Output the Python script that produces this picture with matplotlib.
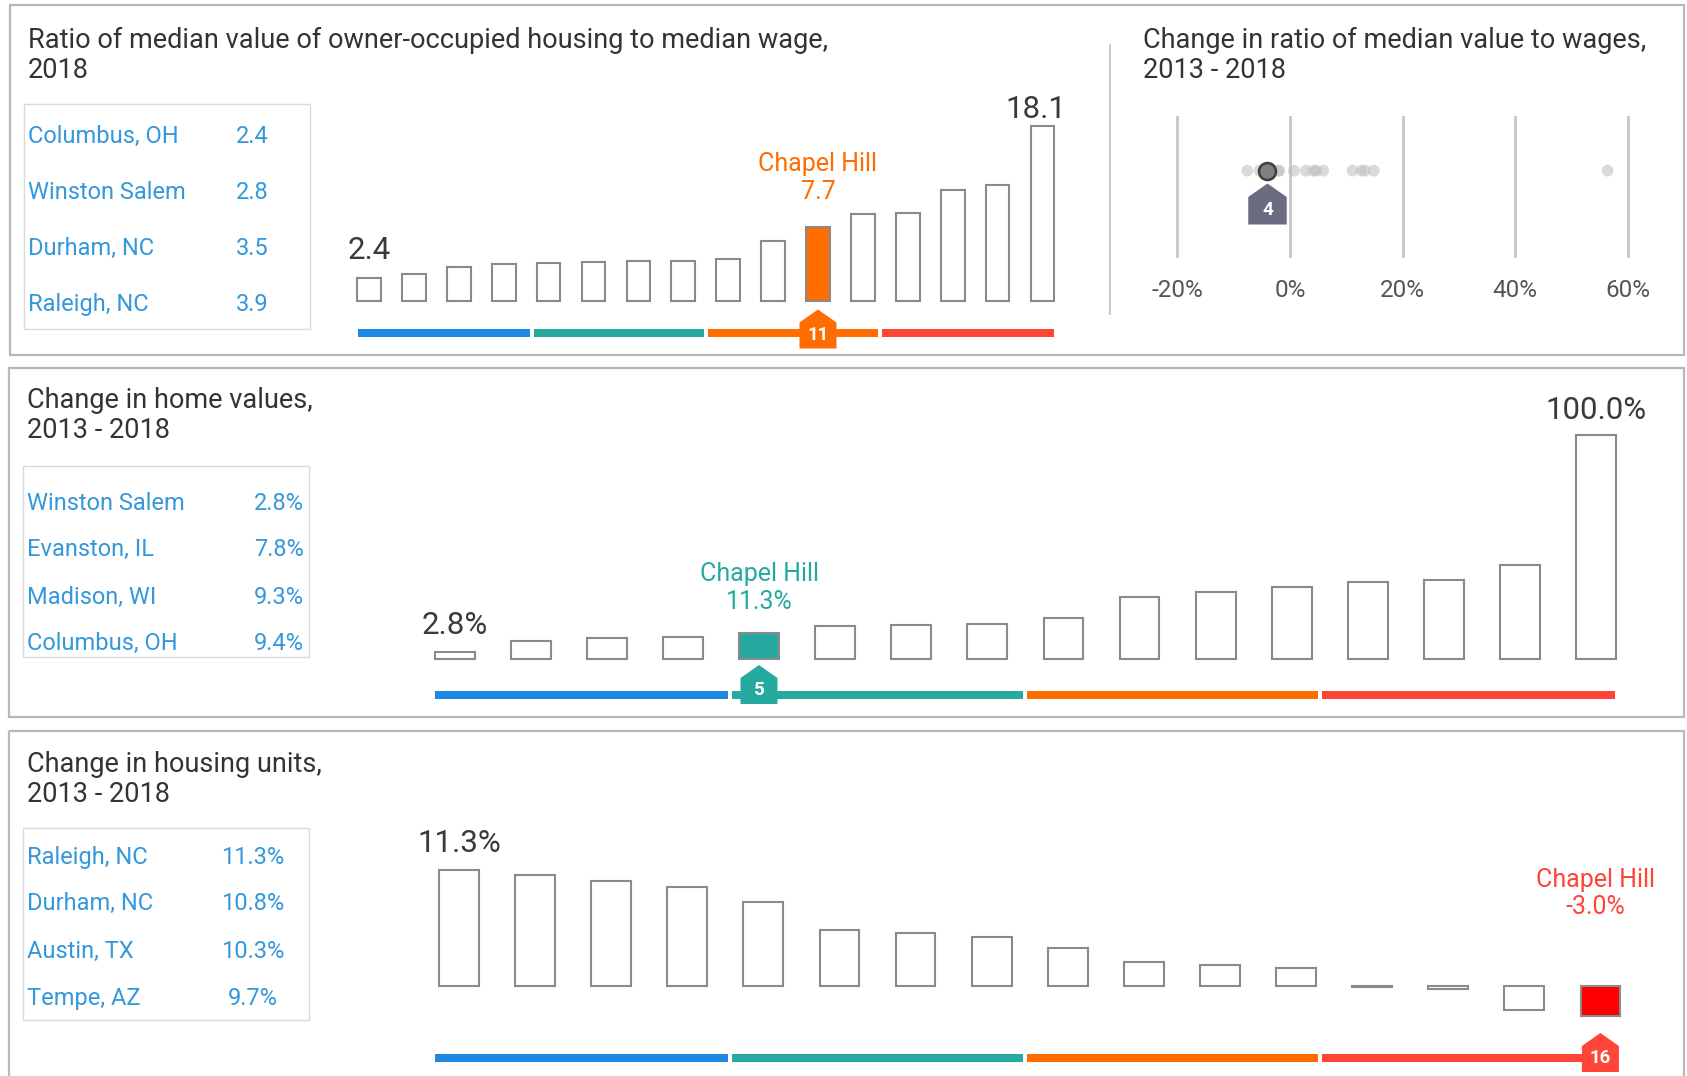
import matplotlib
matplotlib.use("Agg")
import matplotlib.pyplot as plt
from matplotlib.patches import Rectangle, Polygon
import numpy as np

plt.rcParams['font.family'] = ['Roboto', 'DejaVu Sans']

# ---------------- data ----------------
# Ratio of median home value to median wage, 2018 (sorted ascending)
ratio_values = [2.4, 2.8, 3.5, 3.9, 4.0, 4.1, 4.2, 4.2, 4.4, 6.2, 7.7, 9.0, 9.1, 11.5, 12.0, 18.1]
ratio_highlight = 10
ratio_table_names = ["Columbus, OH", "Winston Salem", "Durham, NC", "Raleigh, NC"]
ratio_table_values = ["2.4", "2.8", "3.5", "3.9"]

# Change in ratio of median value to wages, 2013-2018 (%)
ratio_change = [-7.6, -5.4, -4.6, -4.0, -2.1, -1.9, 0.7, 2.8, 4.2, 4.7, 5.9, 11.1, 12.7, 13.3, 14.9, 56.4]
ratio_change_highlight = 3
ratio_change_ticks = [-20, 0, 20, 40, 60]
ratio_change_ticklabels = ["-20%", "0%", "20%", "40%", "60%"]

# Change in home values, 2013-2018 (%)
home_values = [2.8, 7.8, 9.3, 9.4, 11.3, 14.3, 14.9, 15.5, 18.0, 27.4, 29.6, 32.0, 34.1, 35.1, 41.7, 100.0]
home_highlight = 4
home_table_names = ["Winston Salem", "Evanston, IL", "Madison, WI", "Columbus, OH"]
home_table_values = ["2.8%", "7.8%", "9.3%", "9.4%"]

# Change in housing units, 2013-2018 (%) (sorted descending)
units_values = [11.3, 10.8, 10.3, 9.7, 8.2, 5.4, 5.2, 4.75, 3.7, 2.3, 2.0, 1.7, -0.1, -0.3, -2.4, -3.0]
units_highlight = 15
units_table_names = ["Raleigh, NC", "Durham, NC", "Austin, TX", "Tempe, AZ"]
units_table_values = ["11.3%", "10.8%", "10.3%", "9.7%"]

# ---------------- styling ----------------
W, H = 1687, 1076
QUART_COLORS = ["#1e88e5", "#26aaa0", "#ff6d00", "#ff4438"]
TITLE_C = "#333333"
TABLE_C = "#3498db"
EDGE_C = "#8a8a8a"
LABEL_C = "#3a3a3a"
BORDER_C = "#b8b8b8"

TITLE_FS = 19.5
TABLE_FS = 17
VALUE_FS = 22.5
HL_FS = 18
TICK_FS = 17.5

fig = plt.figure(figsize=(W / 100, H / 100), dpi=100, facecolor="white")


def px_axes(x0, y0, x1, y1, z=1):
    ax = fig.add_axes([x0 / W, 1 - y1 / H, (x1 - x0) / W, (y1 - y0) / H], zorder=z)
    ax.set_facecolor("none")
    return ax


def canvas(z):
    ax = px_axes(0, 0, W, H, z)
    ax.set_xlim(0, W)
    ax.set_ylim(H, 0)
    ax.axis("off")
    return ax


bg = canvas(0)
fg = canvas(20)

# panel frames
for (x0, y0, x1, y1) in [(10, 5, 1684, 355), (9, 368, 1684, 717), (9, 731, 1684, 1090)]:
    bg.add_patch(Rectangle((x0, y0), x1 - x0, y1 - y0, fill=False,
                           ec=BORDER_C, lw=1.6, clip_on=False))

# separator in the top panel
bg.plot([1110, 1110], [45, 314], color="#c8c8c8", lw=1.4)


def title(x, y, lines):
    for i, t in enumerate(lines):
        bg.text(x, y + i * 30, t, fontsize=TITLE_FS, color=TITLE_C, va="center", ha="left")


title(28, 40, ["Ratio of median value of owner-occupied housing to median wage,", "2018"])
title(1143, 40, ["Change in ratio of median value to wages,", "2013 - 2018"])
title(27, 401, ["Change in home values,", "2013 - 2018"])
title(27, 764, ["Change in housing units,", "2013 - 2018"])


def table(box, rows_y, names, values, name_x, val_x):
    x0, y0, x1, y1 = box
    bg.add_patch(Rectangle((x0, y0), x1 - x0, y1 - y0, fill=False, ec="#dadada", lw=1.0))
    for y, n, v in zip(rows_y, names, values):
        bg.text(name_x, y, n, fontsize=TABLE_FS, color=TABLE_C, va="center", ha="left")
        bg.text(val_x, y, v, fontsize=TABLE_FS, color=TABLE_C, va="center", ha="center")


table((24, 104, 310, 329), [136.5, 192.5, 248.5, 304.5],
      ratio_table_names, ratio_table_values, 28, 252)
table((23, 466, 309, 657), [503.5, 549.5, 597, 643],
      home_table_names, home_table_values, 27, 279)
table((23, 828, 309, 1020), [857.5, 903.5, 951, 998.5],
      units_table_names, units_table_values, 27, 253)


def house(cx, tip_y, number, color, w=37, tri=13, h=39):
    pts = [(cx, tip_y), (cx + w / 2, tip_y + tri), (cx + w / 2, tip_y + h),
           (cx - w / 2, tip_y + h), (cx - w / 2, tip_y + tri)]
    fg.add_patch(Polygon(pts, closed=True, fc=color, ec="none"))
    fg.text(cx, tip_y + tri + (h - tri) / 2 - 1, number, color="white", fontsize=13.5,
            fontweight="bold", ha="center", va="center")


def bar_panel(values, hl, x0, step, bw, base_y, px_per_unit, top_y, bot_y,
              strip_y, strip_span, marker_tip):
    n = len(values)
    idx = np.arange(n)
    left = x0 - step / 2
    right = x0 + (n - 0.5) * step
    ax = px_axes(left, top_y, right, bot_y, z=5)
    ax.set_xlim(-0.5, n - 0.5)
    ax.set_ylim(-(bot_y - base_y) / px_per_unit, (base_y - top_y) / px_per_unit)
    ax.axis("off")
    hl_color = QUART_COLORS[hl // 4]
    faces = ["white"] * n
    faces[hl] = "#ff0000" if hl_color == QUART_COLORS[3] else hl_color
    ax.bar(idx, values, width=bw / step, color=faces, edgecolor=EDGE_C, linewidth=1.5)
    # quartile strips
    sx0, sx1 = strip_span
    q = (sx1 - sx0) / 4
    for k in range(4):
        bg.add_patch(Rectangle((sx0 + k * q + (2 if k else 0), strip_y - 4),
                               q - (4 if 0 < k < 3 else 2), 8, fc=QUART_COLORS[k], ec="none"))
    house(x0 + hl * step, marker_tip, str(hl + 1), hl_color)
    return ax, hl_color


def label(ax, i, v, text, dy, color=LABEL_C, fs=VALUE_FS, dx=0):
    ax.annotate(text, (i, v), xytext=(dx, dy), textcoords="offset pixels",
                ha="center", va="center", fontsize=fs, color=color, annotation_clip=False)


# ---- top: ratio bars ----
ax1, c1 = bar_panel(ratio_values, ratio_highlight, 369.0, 44.9, 23.7, 301.3, 175.4 / 18.1,
                    85, 305, 332.5, (358.3, 1054.4), 309.5)
label(ax1, 0, ratio_values[0], f"{ratio_values[0]:.1f}", 28)
label(ax1, 15, ratio_values[-1], f"{ratio_values[-1]:.1f}", 16, dx=-7)
label(ax1, ratio_highlight, ratio_values[ratio_highlight],
      f"{ratio_values[ratio_highlight]:.1f}", 35, color=c1, fs=HL_FS)
label(ax1, ratio_highlight, ratio_values[ratio_highlight], "Chapel Hill", 63, color=c1, fs=HL_FS)

# ---- middle: home value bars ----
ax2, c2 = bar_panel(home_values, home_highlight, 454.6, 76.1, 39.8, 658.5, 223.8 / 100,
                    415, 662, 695, (434.7, 1615.0), 665)
label(ax2, 0, home_values[0], f"{home_values[0]:.1f}%", 27)
label(ax2, 15, home_values[-1], f"{home_values[-1]:.1f}%", 24)
label(ax2, home_highlight, home_values[home_highlight],
      f"{home_values[home_highlight]:.1f}%", 31, color=c2, fs=HL_FS)
label(ax2, home_highlight, home_values[home_highlight], "Chapel Hill", 59, color=c2, fs=HL_FS)

# ---- bottom: housing unit bars ----
ax3, c3 = bar_panel(units_values, units_highlight, 458.9, 76.1, 39.8, 985.5, 10.19,
                    800, 1030, 1057.5, (434.7, 1615.0), 1033)
label(ax3, 0, units_values[0], f"{units_values[0]:.1f}%", 27)
hv = units_values[units_highlight]
label(ax3, units_highlight, 0, f"{hv:.1f}%", 78, color="#ff4438", fs=HL_FS, dx=-5)
label(ax3, units_highlight, 0, "Chapel Hill", 106, color="#ff4438", fs=HL_FS, dx=-5)

# ---- top right: dot strip of ratio change ----
px_per_pct = 5.63
zero_px = 1290.0
dx0 = zero_px + (-20.5) * px_per_pct
dx1 = zero_px + 60.5 * px_per_pct
ax4 = px_axes(dx0, 116, dx1, 258, z=5)
ax4.set_xlim(-20.5, 60.5)
ax4.set_ylim(0, 1)
for s in ax4.spines.values():
    s.set_visible(False)
ax4.set_yticks([])
ax4.set_xticks(ratio_change_ticks)
ax4.set_xticklabels(ratio_change_ticklabels, fontsize=TICK_FS, color="#555555")
ax4.tick_params(axis="x", length=0, pad=15)
ax4.grid(axis="x", color="#c8c8c8", lw=2)
ax4.set_axisbelow(True)
others = [v for i, v in enumerate(ratio_change) if i != ratio_change_highlight]
ax4.scatter(others, [0.615] * len(others), s=72, color="#bdbdbd", alpha=0.55,
            edgecolors="none", zorder=3)
hv4 = ratio_change[ratio_change_highlight]
ax4.scatter([hv4], [0.615], s=150, color="#808080", edgecolors="#3f3f3f",
            linewidths=1.8, zorder=4)
house(zero_px + hv4 * px_per_pct, 183.5, str(ratio_change_highlight + 1), "#6b6b82",
      w=38.5, tri=13.5, h=41)

fig.savefig("out.png", dpi=100, facecolor="white")
